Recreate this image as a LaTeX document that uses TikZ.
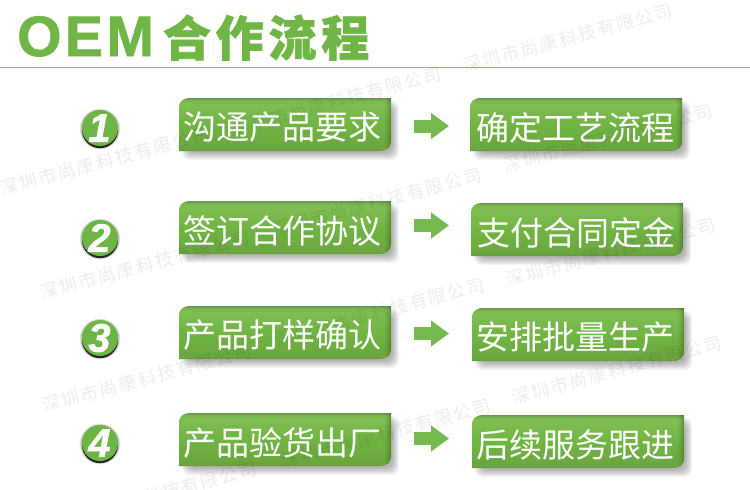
\documentclass[tikz,border=0pt]{standalone}
\usepackage{fontspec}
\usetikzlibrary{arrows.meta}
\setmainfont{Liberation Sans}
\newfontfamily\cjkreg{Noto Sans CJK SC}
\newfontfamily\cjkwm[LetterSpace=10]{Noto Sans CJK SC}
\newfontfamily\cjktitle[LetterSpace=10,FakeBold=1.5]{Noto Sans CJK SC Black}
\newfontfamily\lattitle[LetterSpace=6,FakeBold=1.2]{Liberation Sans Bold}
\newfontfamily\numfont[FakeBold=1.2]{Liberation Sans Bold Italic}
\definecolor{oemgreen}{HTML}{70B646}
\definecolor{rulegreen}{HTML}{8CB866}
\definecolor{arrowgreen}{HTML}{76B94F}
\definecolor{disc}{HTML}{6DB545}
\definecolor{cardA}{HTML}{5F9440}
\definecolor{cardB}{HTML}{6BA640}
\definecolor{cardC}{HTML}{70B442}
\definecolor{cardD}{HTML}{80BE54}
\definecolor{cardE}{HTML}{7AB450}
\definecolor{cardF}{HTML}{69964B}
\pgfdeclareverticalshading{cardshade}{100bp}{
 color(0bp)=(cardA);
 color(25bp)=(cardA);
 color(27bp)=(cardB);
 color(50bp)=(cardC);
 color(70bp)=(cardD);
 color(73bp)=(cardE);
 color(75bp)=(cardF);
 color(100bp)=(cardF)}
\tikzset{
 boxanchor/.style={rectangle,minimum width=212pt,minimum height=53pt,inner sep=0pt,outer sep=0pt},
 cardtext/.style={text=white,font=\fontsize{33}{33}\cjkreg,inner sep=0pt},
 flow/.style={arrowgreen,line width=13pt,-{Triangle[length=18pt,width=25pt]}},
 discnum/.style={text=white,font=\fontsize{40}{40}\numfont,inner sep=0pt},
 wmark/.style={rotate=15,anchor=center,text=black,text opacity=.07,font=\fontsize{18}{18}\cjkwm,inner sep=0pt}
}
% name, left, top, text x, label
\newcommand{\oemcard}[5]{
 \foreach \i in {1,...,9}{
  \fill[black,opacity=.035,rounded corners=8pt]
   (#2+9-.7*\i,#3+9-.7*\i) rectangle (#2+212+1+.8*\i,#3+53+1+.9*\i);
 }
 \def\oemshape{(#2,#3+53) -- (#2,#3+10) .. controls (#2,#3+3) and (#2+4,#3) .. (#2+12,#3)
   -- (#2+212,#3) -- (#2+212,#3+43) .. controls (#2+212,#3+50) and (#2+208,#3+53) .. (#2+200,#3+53) -- cycle}
 \shade[shading=cardshade] \oemshape;
 \begin{scope}
  \clip \oemshape;
  \foreach \j/\o in {0/.22,1/.16,2/.12,3/.08,4/.05,5/.03}{
   \fill[black,opacity=\o] (#2+212-\j-1,#3) rectangle (#2+212-\j,#3+53);
  }
 \end{scope}
 \node[boxanchor] (#1) at (#2+106,#3+26.5) {};
 \node[cardtext] (#1t) at (#4,#3+29.5) {#5};
}
\newcommand{\oemdisc}[3]{
 \foreach \i in {1,...,4}{
  \fill[black,opacity=.08] (100,#2+1) circle (18+\i*.6);
 }
 \fill[black!85] (100,#2+2.2) circle (18);
 \node[circle,fill=disc,minimum size=36pt,inner sep=0pt] (#1) at (100,#2) {};
 \node[discnum] (#1n) at (99.5,#2) {#3};
}
\begin{document}
\begin{tikzpicture}[x=1pt,y=-1pt]
\useasboundingbox (0,0) rectangle (750,490);
\fill[white] (0,0) rectangle (750,490);

\node[anchor=base west,inner sep=0pt,text=oemgreen] (title) at (17,56)
 {\fontsize{57}{57}\lattitle OEM\hspace{9pt}\fontsize{48}{48}\cjktitle 合作流程};
\coordinate (ruleL) at (0,67.5);
\coordinate (ruleR) at (750,67.5);
\draw[rulegreen,line width=1pt] (ruleL) -- (ruleR);

\oemcard{l1}{179}{98}{282.5}{沟通产品要求}
\oemcard{r1}{470}{98}{575.5}{确定工艺流程}
\oemcard{l2}{179}{201}{282.5}{签订合作协议}
\oemcard{r2}{471}{203}{576}{支付合同定金}
\oemcard{l3}{179}{306}{282.5}{产品打样确认}
\oemcard{r3}{472}{308}{575.5}{安排批量生产}
\oemcard{l4}{179}{413}{282.5}{产品验货出厂}
\oemcard{r4}{472}{415}{575.5}{后续服务跟进}

\coordinate (ay1) at (0,126);
\coordinate (ay2) at (0,225.5);
\coordinate (ay3) at (0,333.5);
\coordinate (ay4) at (0,438.5);
\draw[flow,shorten <=23pt,shorten >=21pt] (l1.east |- ay1) -- (r1.west |- ay1);
\draw[flow,shorten <=23pt,shorten >=22pt] (l2.east |- ay2) -- (r2.west |- ay2);
\draw[flow,shorten <=23pt,shorten >=23pt] (l3.east |- ay3) -- (r3.west |- ay3);
\draw[flow,shorten <=23pt,shorten >=23pt] (l4.east |- ay4) -- (r4.west |- ay4);

\oemdisc{d1}{128}{1}
\oemdisc{d2}{238}{2}
\oemdisc{d3}{338}{3}
\oemdisc{d4}{443}{4}

\begin{scope}
\clip (0,0) rectangle (750,490);
\node[wmark] (w1) at (568,38) {深圳市尚康科技有限公司};
\node[wmark] (w2) at (337,101) {深圳市尚康科技有限公司};
\node[wmark] (w3) at (105,161) {深圳市尚康科技有限公司};
\node[wmark] (w4) at (608,138) {深圳市尚康科技有限公司};
\node[wmark] (w5) at (377,202) {深圳市尚康科技有限公司};
\node[wmark] (w6) at (145,265) {深圳市尚康科技有限公司};
\node[wmark] (w7) at (611,252) {深圳市尚康科技有限公司};
\node[wmark] (w8) at (380,312) {深圳市尚康科技有限公司};
\node[wmark] (w9) at (147,378) {深圳市尚康科技有限公司};
\node[wmark] (w10) at (617,370) {深圳市尚康科技有限公司};
\node[wmark] (w11) at (386,433) {深圳市尚康科技有限公司};
\node[wmark] (w12) at (152,496) {深圳市尚康科技有限公司};
\end{scope}
\end{tikzpicture}
\end{document}
